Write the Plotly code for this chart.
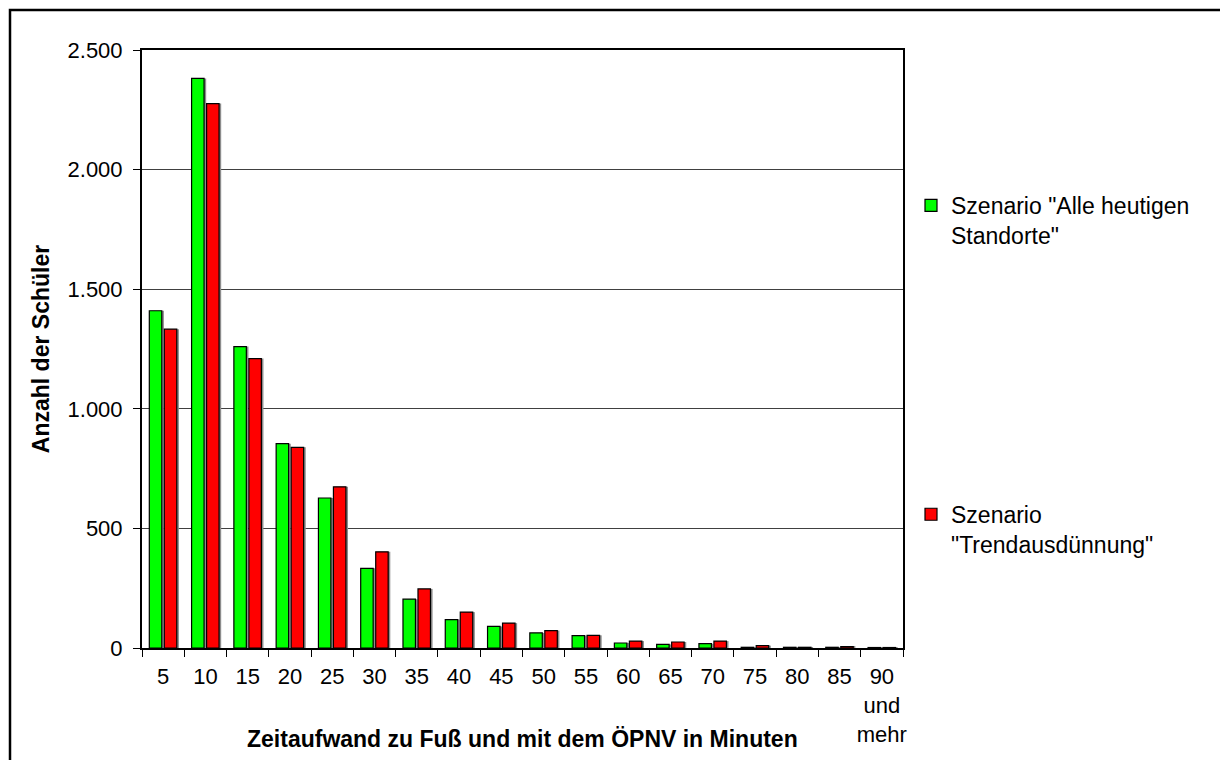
import plotly.graph_objects as go

# Travel time classes (minutes)
categories = ["5", "10", "15", "20", "25", "30", "35", "40", "45", "50",
              "55", "60", "65", "70", "75", "80", "85", "90<br>und<br>mehr"]

# Number of pupils per travel-time class
alle_standorte = [1410, 2381, 1260, 854, 627, 333, 204, 119, 90, 63,
                  52, 21, 15, 18, 3, 3, 3, 2]
trendausduennung = [1333, 2276, 1210, 839, 674, 402, 247, 150, 104, 73,
                    53, 29, 25, 29, 10, 3, 6, 2]

name_alle = 'Szenario "Alle heutigen<br>Standorte"'
name_trend = 'Szenario<br>"Trendausdünnung"'

FONT = "Liberation Sans, Arial, sans-serif"
BAR_W = 0.295
OFF_GREEN = -0.327
OFF_RED = 0.028
SHADOW_DX = 0.05

fig = go.Figure()

# soft drop shadows behind the bars
for vals, off in ((alle_standorte, OFF_GREEN), (trendausduennung, OFF_RED)):
    fig.add_trace(go.Bar(
        x=categories, y=vals, width=BAR_W, offset=off + SHADOW_DX,
        marker=dict(color="#8c8c8c", line=dict(width=0)),
        showlegend=False, hoverinfo="skip",
    ))

fig.add_trace(go.Bar(
    x=categories, y=alle_standorte, name=name_alle, width=BAR_W, offset=OFF_GREEN,
    marker=dict(color="#00ff00", line=dict(color="black", width=1.2)),
    legendgroup="a",
))
fig.add_trace(go.Bar(
    x=categories, y=trendausduennung, name=name_trend, width=BAR_W, offset=OFF_RED,
    marker=dict(color="#ff0000", line=dict(color="black", width=1.2)),
    legendgroup="b",
))

L, R, T, B = 142, 903, 50, 648
W, H = 1220, 760

def px_x(p):
    return (p - L) / (R - L)

def px_y(p):
    return (B - p) / (B - T)

fig.update_layout(
    width=W, height=H,
    margin=dict(l=L, r=W - R, t=T, b=H - B, autoexpand=False),
    paper_bgcolor="white", plot_bgcolor="white",
    barmode="overlay",
    separators=",.",
    font=dict(family=FONT, size=22, color="black"),
    legend=dict(
        x=px_x(911), y=px_y(184), xanchor="left", yanchor="top",
        traceorder="grouped", tracegroupgap=246, valign="top",
        font=dict(family=FONT, size=23, color="black"),
        bgcolor="rgba(0,0,0,0)",
    ),
    shapes=[dict(
        type="rect", xref="paper", yref="paper",
        x0=px_x(10), x1=px_x(1300), y0=px_y(850), y1=px_y(10),
        line=dict(color="black", width=2.5), fillcolor="rgba(0,0,0,0)",
        layer="below",
    )],
    annotations=[dict(
        text="<b>Zeitaufwand zu Fuß und mit dem ÖPNV in Minuten</b>",
        xref="paper", yref="paper", x=0.5, y=px_y(739),
        xanchor="center", yanchor="middle", showarrow=False,
        font=dict(family=FONT, size=23, color="black"),
    )],
)

fig.update_xaxes(
    type="category", range=[-0.5, len(categories) - 0.5],
    showline=True, linecolor="black", linewidth=2, mirror=True,
    ticks="outside", tickson="boundaries", ticklen=7, tickcolor="black",
    tickwidth=1, ticklabelstandoff=8, tickangle=0,
    showgrid=False, tickfont=dict(size=22),
)
fig.update_yaxes(
    range=[0, 2500], dtick=500, tickformat=",d",
    showline=True, linecolor="black", linewidth=2, mirror=True,
    ticks="outside", ticklen=7, tickcolor="black", tickwidth=1,
    ticklabelstandoff=6,
    showgrid=True, gridcolor="#404040", gridwidth=1,
    zeroline=False, tickfont=dict(size=22),
    title=dict(text="<b>Anzahl der Schüler</b>", standoff=11,
               font=dict(family=FONT, size=23, color="black")),
)

fig.write_html("out.html")
